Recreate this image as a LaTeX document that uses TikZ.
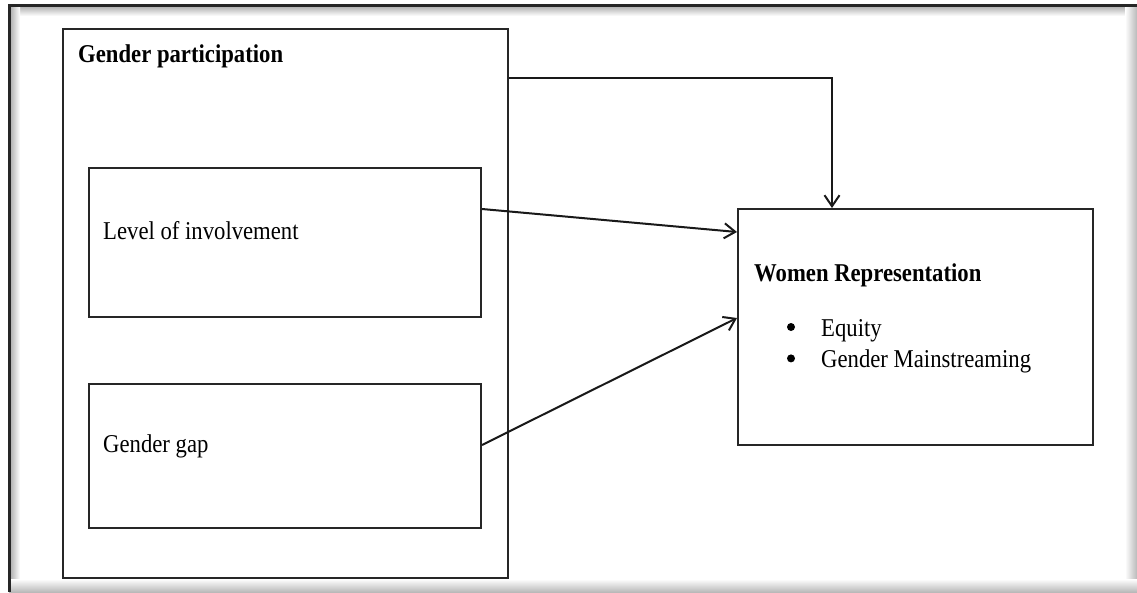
\documentclass[tikz,border=0pt]{standalone}
\usepackage{fontspec}
\setmainfont{Liberation Serif}
\usepackage{tikz}
\usetikzlibrary{positioning,arrows.meta}
\newcommand{\tallt}[1]{\scalebox{1}[1.13]{#1}}

\begin{document}
\begin{tikzpicture}[x=1pt,y=-1pt,
  every node/.style={font=\fontsize{22.7}{27}\selectfont,inner sep=0pt},
  box/.style={draw=black!85,line width=2pt,fill=white},
  lbl/.style={anchor=base west},
  dot/.style={circle,fill=black,minimum size=8pt},
  arr/.style={-{Straight Barb[length=11pt,width=15pt,line width=2pt]},line width=2pt,black!90}]
\useasboundingbox (0,0) rectangle (1137,592);
% frame
\fill[white] (0,0) rectangle (1137,592);
\shade[top color=gray!70,bottom color=white] (9,5) rectangle (1137,16);
\shade[left color=gray!70,right color=white] (9,5) rectangle (20,592);
\shade[left color=white,right color=gray!55] (1125,5) rectangle (1137,592);
\shade[top color=white,bottom color=gray!55] (9,579) rectangle (1137,592);
\draw[line width=3pt,black!85] (9,592) -- (9,5) -- (1137,5);
\node[box,minimum width=445pt,minimum height=549pt] (gp) at (285.5,303.5) {};
\node[box,minimum width=392pt,minimum height=149pt] (lev) at (285,242.5) {};
\node[box,minimum width=392pt,minimum height=144pt] (gap) at (285,456) {};
\node[box,minimum width=355pt,minimum height=236pt] (wr) at (915.5,327) {};
% texts
\node[lbl,font=\fontsize{22.7}{27}\selectfont\bfseries] (gptxt) at ([xshift=16pt,yshift=-34pt]gp.north west) {\tallt{Gender participation}};
\node[lbl] (levtxt) at ([xshift=15pt,yshift=-72pt]lev.north west) {\tallt{Level of involvement}};
\node[lbl] (gaptxt) at ([xshift=15pt,yshift=-69pt]gap.north west) {\tallt{Gender gap}};
\node[lbl,font=\fontsize{22.7}{27}\selectfont\bfseries] (wrtxt) at ([xshift=17pt,yshift=-73pt]wr.north west) {\tallt{Women Representation}};
\node[dot] (b1) at ([xshift=37pt,yshift=-46pt]wrtxt.base west) {};
\node[lbl] (eq) at ([xshift=67pt,yshift=-55pt]wrtxt.base west) {\tallt{Equity}};
\node[dot,below=23pt of b1] (b2) {};
\node[lbl] (gm) at ([yshift=-31pt]eq.base west) {\tallt{Gender Mainstreaming}};
% connectors
\draw[arr] ([yshift=33.5pt]lev.east) -- ([yshift=95pt]wr.west);
\draw[arr] ([yshift=11pt]gap.east) -- ([yshift=9pt]wr.west);
\draw[arr] ([yshift=225.5pt]gp.east) -| ([xshift=-83.5pt]wr.north);
\end{tikzpicture}
\end{document}
